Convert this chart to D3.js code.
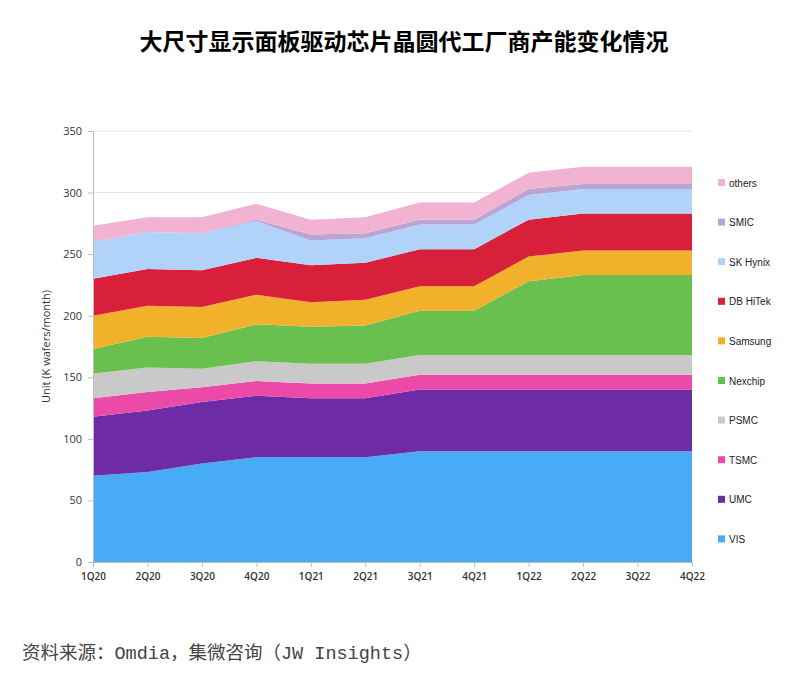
<!DOCTYPE html>
<html>
<head>
<meta charset="utf-8">
<script src="https://cdn.jsdelivr.net/npm/d3@7"></script>
<style>
  html, body { margin: 0; padding: 0; background: #fff; }
  #chart { width: 812px; height: 679px; }
</style>
</head>
<body>
<div id="chart"></div>
<script>
// quarters on the x axis
const quarters = ['1Q20', '2Q20', '3Q20', '4Q20', '1Q21', '2Q21', '3Q21', '4Q21', '1Q22', '2Q22', '3Q22', '4Q22'];

// capacity per foundry, K wafers/month
const VIS     = [70, 73, 80, 85, 85, 85, 90, 90, 90, 90, 90, 90];
const UMC     = [48, 50, 50, 50, 48, 48, 50, 50, 50, 50, 50, 50];
const TSMC    = [15, 15, 12, 12, 12, 12, 12, 12, 12, 12, 12, 12];
const PSMC    = [20, 20, 15, 16, 16, 16, 16, 16, 16, 16, 16, 16];
const Nexchip = [20, 25, 25, 30, 30, 31, 36, 36, 60, 65, 65, 65];
const Samsung = [27, 25, 25, 24, 20, 21, 20, 20, 20, 20, 20, 20];
const DBHiTek = [30, 30, 30, 30, 30, 30, 30, 30, 30, 30, 30, 30];
const SKHynix = [30, 30, 30, 30, 20, 20, 20, 20, 20, 20, 20, 20];
const SMIC    = [0, 0, 0, 1, 5, 4, 4, 4, 5, 4, 4, 4];
const others  = [13, 12, 13, 13, 12, 13, 14, 14, 13, 14, 14, 14];

const seriesNames = ['VIS', 'UMC', 'TSMC', 'PSMC', 'Nexchip', 'Samsung', 'DB HiTek', 'SK Hynix', 'SMIC', 'others'];
const seriesValues = [VIS, UMC, TSMC, PSMC, Nexchip, Samsung, DBHiTek, SKHynix, SMIC, others];
const seriesColors = ['#48abf6', '#6d2ba6', '#eb4aa9', '#c9c9c9', '#69c04e', '#f2b12a', '#d8203b', '#b1d3fa', '#b9a5d1', '#f2b2d1'];

const yTicks = [0, 50, 100, 150, 200, 250, 300, 350];

const width = 812, height = 679;
const margin = { left: 93, right: 120, top: 131, bottom: 117 };
const plotW = width - margin.left - margin.right;
const plotH = height - margin.top - margin.bottom;

const svg = d3.select('#chart').append('svg')
  .attr('width', width)
  .attr('height', height)
  .style('display', 'block');

// title
svg.append('text')
  .attr('x', 404)
  .attr('y', 50)
  .attr('text-anchor', 'middle')
  .attr('font-family', '"Noto Sans CJK SC", sans-serif')
  .attr('font-weight', 'bold')
  .attr('font-size', '23px')
  .attr('fill', '#000')
  .text('大尺寸显示面板驱动芯片晶圆代工厂商产能变化情况');

const table = quarters.map((q, i) => {
  const row = { q };
  seriesNames.forEach((n, k) => { row[n] = seriesValues[k][i]; });
  return row;
});

const stack = d3.stack().keys(seriesNames);
const layers = stack(table);

const x = d3.scalePoint().domain(quarters).range([0, plotW]);
const y = d3.scaleLinear().domain([0, 350]).range([plotH, 0]);

const g = svg.append('g').attr('transform', `translate(${margin.left}, ${margin.top})`);

// gridlines
g.append('g')
  .selectAll('line')
  .data(yTicks.slice(1))
  .join('line')
  .attr('x1', 0)
  .attr('x2', plotW)
  .attr('y1', d => y(d))
  .attr('y2', d => y(d))
  .attr('stroke', '#e6e6e6')
  .attr('stroke-width', 1);

const area = d3.area()
  .x(d => x(d.data.q))
  .y0(d => y(d[0]))
  .y1(d => y(d[1]));

g.append('g')
  .selectAll('path')
  .data(layers)
  .join('path')
  .attr('d', area)
  .attr('fill', (d, i) => seriesColors[i]);

// axes
const yAxis = g.append('g')
  .call(d3.axisLeft(y).tickValues(yTicks).tickSize(5).tickPadding(6));
const xAxis = g.append('g')
  .attr('transform', `translate(0, ${plotH})`)
  .call(d3.axisBottom(x).tickSize(5).tickPadding(6));

[yAxis, xAxis].forEach(a => {
  a.select('.domain').attr('stroke', '#bdbdbd');
  a.selectAll('.tick line').attr('stroke', '#bdbdbd');
  a.selectAll('.tick text')
    .attr('fill', '#333')
    .attr('font-family', '"Open Sans", sans-serif')
    .attr('font-size', '11px');
});
xAxis.selectAll('.tick text').attr('font-weight', 600).attr('font-size', '10px');

// y axis label
svg.append('text')
  .attr('transform', `translate(50, ${margin.top + plotH / 2}) rotate(-90)`)
  .attr('text-anchor', 'middle')
  .attr('font-family', '"Open Sans", sans-serif')
  .attr('font-size', '11px')
  .attr('fill', '#333')
  .text('Unit (K wafers/month)');

// legend (top-down: others ... VIS)
const legendOrder = seriesNames.map((n, i) => ({ n, c: seriesColors[i] })).reverse();
const legend = svg.append('g').attr('transform', 'translate(718, 183)');
const item = legend.selectAll('g')
  .data(legendOrder)
  .join('g')
  .attr('transform', (d, i) => `translate(0, ${i * 39.6})`);
item.append('rect')
  .attr('x', 0)
  .attr('y', -4)
  .attr('width', 7)
  .attr('height', 7)
  .attr('fill', d => d.c);
item.append('text')
  .attr('x', 11)
  .attr('y', 0)
  .attr('dominant-baseline', 'central')
  .attr('font-family', '"Liberation Sans", Arial, sans-serif')
  .attr('font-size', '10px')
  .attr('fill', '#222')
  .text(d => d.n);

// source note
svg.append('text')
  .attr('x', 22)
  .attr('y', 659)
  .attr('font-family', '"Liberation Mono", "Noto Sans CJK SC", monospace')
  .attr('font-size', '18.5px')
  .attr('fill', '#444')
  .text('资料来源：Omdia，集微咨询（JW Insights）');
</script>
</body>
</html>
